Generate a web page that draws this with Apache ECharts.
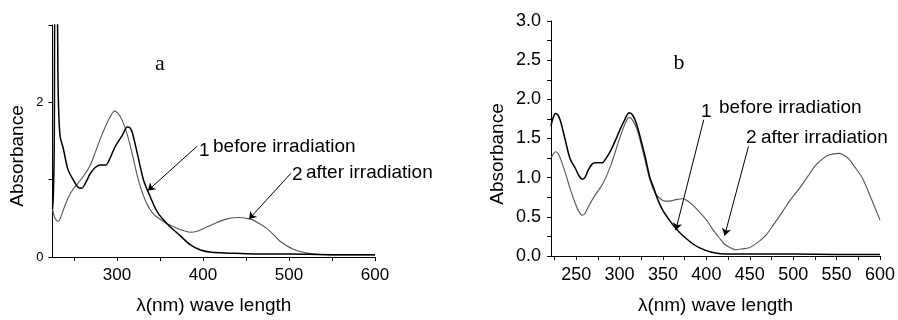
<!DOCTYPE html>
<html>
<head>
<meta charset="utf-8">
<script src="https://cdn.jsdelivr.net/npm/echarts@6/dist/echarts.min.js"></script>
<style>
html,body{margin:0;padding:0;background:#fff;}
#chart{width:898px;height:320px;}
</style>
</head>
<body>
<div id="chart"></div>
<script>
// ---- Panel a data ----
const aBeforeWave = [225,226,227,228,230,231.5,232.6,234,237.6,243,249,255,259,264,269,275,281,287,292,298,306,312,315,318,324,331,339,347,359,374,385,397,410,430,460,500,550,600];
const aBeforeAbs  = [0.62,0.8,1.4,3.5,3.5,2.2,1.77,1.55,1.4,1.13,1.0,0.9,0.89,0.97,1.08,1.16,1.19,1.19,1.28,1.43,1.57,1.68,1.67,1.6,1.32,0.99,0.77,0.58,0.42,0.27,0.16,0.09,0.06,0.05,0.04,0.04,0.03,0.03];
const aAfterWave  = [225,228,231.7,234,238,243,249,255,262,269,275,281,289,294,297,301,306,312,318,325,333,342,354,366,375,385,395,405,424,441,455,466,475,483,490,505,521,540,600];
const aAfterAbs   = [0.62,0.5,0.46,0.5,0.62,0.76,0.88,0.96,1.06,1.19,1.36,1.54,1.75,1.85,1.89,1.86,1.77,1.58,1.32,0.99,0.73,0.56,0.46,0.39,0.35,0.32,0.34,0.39,0.48,0.51,0.49,0.43,0.36,0.28,0.2,0.1,0.05,0.03,0.025];
const aXTicks = [250,300,350,400,450,500,550,600];
const aXLabels = [300,400,500,600];
const aYTicks = [0,1,2,3];
const aYLabels = [0,2];

// ---- Panel b data ----
const bBeforeWave = [221,223,226,229,232,237,243,249,253,257,260,264,268,272,276,280,284,289,295,300,306,311,315,320,329,335,339,344,350,356,362,370,377,385,393,405,416,450,500,550,600];
const bBeforeAbs  = [1.66,1.75,1.82,1.8,1.72,1.5,1.24,1.12,1.03,0.98,1.0,1.1,1.17,1.19,1.19,1.19,1.24,1.33,1.47,1.6,1.74,1.83,1.8,1.67,1.29,1.0,0.88,0.72,0.58,0.48,0.39,0.29,0.22,0.15,0.1,0.05,0.03,0.025,0.025,0.02,0.02];
const bAfterWave  = [221,223,226,229,232,237,243,249,253,257,260,264,272,281,290,300,306,311,314,320,327,335,341,346,352,358,365,373,380,387,400,408,415,421,427,434,441,450,460,469,478,488,497,507,517,526,535,541,553,558,564,572,580,590,600];
const bAfterAbs   = [1.25,1.29,1.33,1.31,1.24,1.08,0.86,0.67,0.57,0.52,0.54,0.63,0.78,0.93,1.16,1.5,1.68,1.77,1.75,1.62,1.33,0.97,0.8,0.74,0.7,0.7,0.72,0.73,0.69,0.62,0.46,0.33,0.23,0.15,0.11,0.08,0.09,0.11,0.18,0.27,0.41,0.57,0.72,0.86,1.02,1.16,1.25,1.29,1.31,1.29,1.24,1.12,0.99,0.73,0.46];
const bXTicks = [225,250,275,300,325,350,375,400,425,450,475,500,525,550,575,600];
const bXLabels = [250,300,350,400,450,500,550,600];
const bYTicks = [0,0.25,0.5,0.75,1,1.25,1.5,1.75,2,2.25,2.5,2.75,3];
const bYLabels = [0,0.5,1,1.5,2,2.5,3];

// arrow annotations [from, to] in data space
const aArrow1 = [[393,1.43],[336,0.86]];
const aArrow2 = [[502,1.08],[453.5,0.49]];
const bArrow1 = [[397,1.74],[364.7,0.33]];
const bArrow2 = [[448.5,1.40],[421,0.26]];

const zip = (xs, ys) => xs.map((x, i) => [x, ys[i]]);
const FONT = 'Liberation Sans, Arial, sans-serif';
const BLACK = '#000';
const GRAY = '#555';

function markLineOpt(arrows) {
  return {
    silent: true, animation: false,
    symbol: ['none', 'arrow'], symbolSize: 7,
    lineStyle: {color: BLACK, width: 1, type: 'solid'},
    label: {show: false},
    emphasis: {disabled: true},
    data: arrows.map(a => [{coord: a[0], symbol: 'none'}, {coord: a[1], symbol: 'arrow'}])
  };
}
function xAxisOpt(grid, min, max, ticks, labels, fs, margin) {
  return {
    type: 'value', gridIndex: grid, min: min, max: max,
    axisLine: {show: true, onZero: false, lineStyle: {color: BLACK, width: 1}},
    axisTick: {show: true, inside: false, length: 4, lineStyle: {color: BLACK, width: 1}, customValues: ticks},
    axisLabel: {show: true, color: BLACK, fontFamily: FONT, fontSize: fs, margin: margin, customValues: labels},
    splitLine: {show: false}, minorTick: {show: false}
  };
}
function yAxisOpt(grid, ticks, labels, fs, margin, fmt) {
  return {
    type: 'value', gridIndex: grid, min: 0, max: 3,
    axisLine: {show: true, onZero: false, lineStyle: {color: BLACK, width: 1}},
    axisTick: {show: true, inside: false, length: 4, lineStyle: {color: BLACK, width: 1}, customValues: ticks},
    axisLabel: {show: true, color: BLACK, fontFamily: FONT, fontSize: fs, margin: margin, customValues: labels, formatter: fmt},
    splitLine: {show: false}
  };
}

const chart = echarts.init(document.getElementById('chart'), null, {renderer: 'canvas'});
const xName = (fs, gap) => ({name: 'λ(nm) wave length', nameLocation: 'middle', nameGap: gap,
  nameTextStyle: {color: BLACK, fontFamily: FONT, fontSize: fs}});

const text = (x, y, t, fs, extra) => Object.assign({
  type: 'text', x: x, y: y,
  style: {text: t, fill: BLACK, font: fs + 'px ' + FONT, textAlign: 'left', textVerticalAlign: 'middle'}
}, extra || {});

const lineSeries = (name, xi, data, color, width, extra) => Object.assign({
  type: 'line', name: name, xAxisIndex: xi, yAxisIndex: xi, data: data,
  smooth: 0.3, showSymbol: false, clip: true,
  lineStyle: {color: color, width: width}, itemStyle: {color: color}
}, extra || {});

chart.setOption({
  animation: false,
  backgroundColor: '#fff',
  grid: [
    {left: 52.5, top: 25, width: 322.5, height: 236, containLabel: false},
    {left: 551, top: 21, width: 330, height: 237.3, containLabel: false}
  ],
  xAxis: [
    Object.assign(xAxisOpt(0, 225, 600, aXTicks, aXLabels, 17, 10), xName(19, 39)),
    Object.assign(xAxisOpt(1, 221, 600, bXTicks, bXLabels, 18, 10), xName(19, 40))
  ],
  yAxis: [
    yAxisOpt(0, aYTicks, aYLabels, 13, 9, v => String(v)),
    yAxisOpt(1, bYTicks, bYLabels, 18, 10, v => v.toFixed(1))
  ],
  series: [
    lineSeries('2 after irradiation', 0, zip(aAfterWave, aAfterAbs), GRAY, 1.1, {markLine: markLineOpt([aArrow1, aArrow2])}),
    lineSeries('1 before irradiation', 0, zip(aBeforeWave, aBeforeAbs), BLACK, 1.5),
    lineSeries('2 after irradiation', 1, zip(bAfterWave, bAfterAbs), GRAY, 1.1, {markLine: markLineOpt([bArrow1, bArrow2])}),
    lineSeries('1 before irradiation', 1, zip(bBeforeWave, bBeforeAbs), BLACK, 1.5)
  ],
  graphic: [
    text(18, 156, 'Absorbance', 19, {rotation: Math.PI / 2, style: {text: 'Absorbance', fill: BLACK, font: '19px ' + FONT, textAlign: 'center', textVerticalAlign: 'middle'}}),
    text(498, 154, 'Absorbance', 19, {rotation: Math.PI / 2, style: {text: 'Absorbance', fill: BLACK, font: '19px ' + FONT, textAlign: 'center', textVerticalAlign: 'middle'}}),
    text(160, 64, 'a', 22, {style: {text: 'a', fill: BLACK, font: '22px Liberation Serif, Times New Roman, serif', textAlign: 'center', textVerticalAlign: 'middle'}}),
    text(679, 63, 'b', 22, {style: {text: 'b', fill: BLACK, font: '22px Liberation Serif, Times New Roman, serif', textAlign: 'center', textVerticalAlign: 'middle'}}),
    text(199, 151, '1', 19),
    text(213, 147, 'before irradiation', 19),
    text(292, 175, '2', 19),
    text(306, 173, 'after irradiation', 19),
    text(701, 112, '1', 19),
    text(719, 108, 'before irradiation', 19),
    text(746, 138, '2', 19),
    text(761, 138, 'after irradiation', 19)
  ]
});
</script>
</body>
</html>
